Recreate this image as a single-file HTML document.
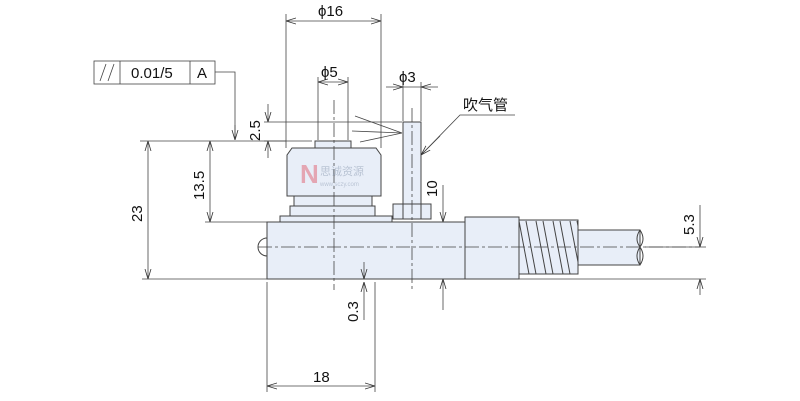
<!DOCTYPE html>
<html><head><meta charset="utf-8"><style>
html,body{margin:0;padding:0;background:#fff;width:800px;height:401px;overflow:hidden}
svg{display:block}
text{font-family:"Liberation Sans","Noto Sans CJK SC",sans-serif;fill:#111}
</style></head><body>
<svg width="800" height="401" viewBox="0 0 800 401" xmlns="http://www.w3.org/2000/svg">
<defs>
<marker id="a" markerWidth="10" markerHeight="8" refX="10" refY="4" orient="auto-start-reverse" markerUnits="userSpaceOnUse"><path d="M0,1 L10,4 L0,7" fill="none" stroke="#333" stroke-width="0.8"/></marker>
</defs>
<g stroke="#444" stroke-width="1" fill="#e8eef8">
<rect x="578" y="230" width="62" height="35" />
<path d="M640,230 q6,9 0,17 q-6,9 0,18 M640,230 q-6,9 0,17 q6,9 0,18" fill="none"/>
<rect x="519" y="220" width="59" height="54"/>
<g fill="none">
<path d="M519,221 L529,274 M526,221 L536,274"/>
<path d="M536,221 L546,274 M543,221 L553,274"/>
<path d="M553,221 L563,274 M560,221 L570,274"/>
<path d="M570,221 L578,262 M577,221 L578,226"/>
</g>
<rect x="465" y="217" width="54" height="62"/>
<rect x="267" y="222" width="198" height="57"/>
<path d="M267,238 a9,9 0 0 0 0,18" fill="none"/>
<rect x="280" y="216" width="112" height="6"/>
<rect x="290" y="206" width="85" height="10"/>
<rect x="294" y="196" width="78" height="10"/>
<path d="M287,155 L292,148 L376,148 L381,155 L381,196 L287,196 Z"/>
<rect x="315" y="141" width="36" height="7"/>
<rect x="403" y="122" width="18" height="82"/>
<rect x="393" y="204" width="38" height="15"/>
<line x1="403" y1="204" x2="403" y2="219"/><line x1="421" y1="204" x2="421" y2="219"/>
</g>
<g stroke="#444" stroke-width="0.8" stroke-dasharray="14,3,3,3" fill="none">
<line x1="334" y1="100" x2="334" y2="290"/>
<line x1="412" y1="108" x2="412" y2="290"/>
<line x1="258" y1="247" x2="700" y2="247"/>
</g>
<g stroke="#444" stroke-width="0.8" fill="none">
<line x1="142" y1="279" x2="706" y2="279"/>
<line x1="286" y1="14" x2="286" y2="148"/><line x1="381" y1="14" x2="381" y2="148"/>
<line x1="286" y1="21" x2="381" y2="21" marker-start="url(#a)" marker-end="url(#a)"/>
<line x1="318" y1="77" x2="318" y2="140"/><line x1="348" y1="77" x2="348" y2="140"/>
<line x1="318" y1="82" x2="348" y2="82" marker-start="url(#a)" marker-end="url(#a)"/>
<line x1="403" y1="82" x2="403" y2="121"/><line x1="421" y1="82" x2="421" y2="121"/>
<line x1="386" y1="87" x2="403" y2="87" marker-end="url(#a)"/>
<line x1="438" y1="87" x2="421" y2="87" marker-end="url(#a)"/>
<line x1="403" y1="87" x2="421" y2="87"/>
<line x1="264" y1="122" x2="402" y2="122"/>
<line x1="264" y1="141" x2="312" y2="141"/>
<line x1="268" y1="104" x2="268" y2="122" marker-end="url(#a)"/>
<line x1="268" y1="158" x2="268" y2="141" marker-end="url(#a)"/>
<line x1="352" y1="131" x2="402" y2="133" /><line x1="355" y1="116" x2="402" y2="133"/><line x1="360" y1="142" x2="402" y2="133"/>
<rect x="94" y="61" width="121" height="23" fill="#fff"/>
<line x1="120" y1="61" x2="120" y2="84"/><line x1="190" y1="61" x2="190" y2="84"/>
<line x1="100" y1="81" x2="106" y2="64"/><line x1="108" y1="81" x2="114" y2="64"/>
<path d="M215,72 L235,72 L235,140" />
<line x1="235" y1="125" x2="235" y2="140" marker-end="url(#a)"/>
<line x1="140" y1="141" x2="286" y2="141"/>
<line x1="205" y1="222" x2="287" y2="222"/>
<line x1="148" y1="141" x2="148" y2="279" marker-start="url(#a)" marker-end="url(#a)"/>
<line x1="210" y1="141" x2="210" y2="222" marker-start="url(#a)" marker-end="url(#a)"/>
<line x1="443" y1="185" x2="443" y2="222" marker-end="url(#a)"/>
<line x1="443" y1="310" x2="443" y2="279" marker-end="url(#a)"/>
<line x1="431" y1="222" x2="465" y2="222"/>
<line x1="645" y1="247" x2="706" y2="247"/>
<line x1="700" y1="205" x2="700" y2="247" marker-end="url(#a)"/>
<line x1="700" y1="295" x2="700" y2="279" marker-end="url(#a)"/>
<line x1="364" y1="262" x2="364" y2="279" marker-end="url(#a)"/>
<line x1="364" y1="320" x2="364" y2="282" marker-end="url(#a)"/>
<line x1="267" y1="282" x2="267" y2="392"/><line x1="375" y1="282" x2="375" y2="392"/>
<line x1="267" y1="386" x2="375" y2="386" marker-start="url(#a)" marker-end="url(#a)"/>
<path d="M515,115 L460,115 L421,155"/>
<line x1="440" y1="136" x2="421" y2="155" marker-end="url(#a)"/>
</g>
<g opacity="0.45">
<text x="300" y="183" font-size="26" font-weight="bold" style="fill:#e05060">N</text>
<text x="320" y="175" font-size="11" style="fill:#8090a8">思诚资源</text>
<text x="320" y="186" font-size="6" style="fill:#8090a8">www.sczy.com</text>
</g>
<g font-size="15">
<text x="318" y="16">ϕ16</text>
<text x="321" y="77">ϕ5</text>
<text x="399" y="82">ϕ3</text>
<text x="131" y="78">0.01/5</text>
<text x="197" y="78">A</text>
<text x="463" y="110">吹气管</text>
<text x="313" y="382">18</text>
<text transform="translate(260,141) rotate(-90)">2.5</text>
<text transform="translate(204,200) rotate(-90)">13.5</text>
<text transform="translate(142,222) rotate(-90)">23</text>
<text transform="translate(437,197) rotate(-90)">10</text>
<text transform="translate(694,235) rotate(-90)">5.3</text>
<text transform="translate(358,322) rotate(-90)">0.3</text>
</g>
</svg>
</body></html>
